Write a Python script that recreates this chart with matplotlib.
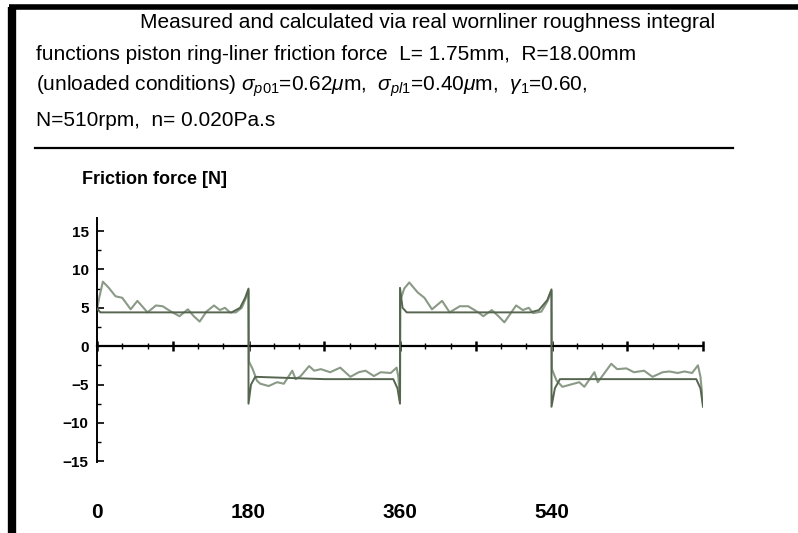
import matplotlib.pyplot as plt
from matplotlib.ticker import MultipleLocator
from matplotlib.transforms import blended_transform_factory
from matplotlib.lines import Line2D

plt.rcParams['font.family'] = ['Liberation Sans Narrow', 'Liberation Sans', 'DejaVu Sans']
plt.rcParams['mathtext.fontset'] = 'custom'
plt.rcParams['mathtext.rm'] = 'Liberation Sans'
plt.rcParams['mathtext.it'] = 'Liberation Sans:italic'

# calculated friction force (crank angle in deg, force in N)
calc_deg = [0, 4, 90, 160, 170, 176, 180, 180, 183, 188, 270, 340, 352, 357, 360,
            360, 363, 368, 450, 515, 525, 535, 540, 540, 544, 550, 700, 712, 717, 720]
calc_force = [4.9, 4.4, 4.4, 4.4, 5.0, 6.3, 7.5, -7.5, -5.0, -4.0, -4.3, -4.3, -4.3, -5.5, -7.5,
              7.6, 5.0, 4.4, 4.4, 4.4, 4.7, 6.0, 7.4, -7.9, -5.5, -4.3, -4.3, -4.3, -5.5, -7.9]

# measured friction force
meas_deg = [0, 3, 7, 14, 22, 30, 40, 48, 60, 70, 78, 88, 98, 108, 115, 122, 130, 139, 146,
            152, 158, 165, 172, 177, 180,
            180.5, 185, 190, 194, 204, 214, 222, 232, 236, 242, 252, 258, 266, 277, 289, 301,
            311, 319, 329, 337, 349, 356, 358, 360,
            360.5, 365, 371, 381, 389, 398, 410, 419, 431, 441, 453, 459, 469, 477, 484, 498,
            506, 513, 518, 528, 535, 540,
            540.5, 546, 553, 563, 573, 579, 591, 595, 601, 611, 618, 629, 638, 650, 660, 672,
            680, 690, 698, 707, 714, 717, 720]
meas_force = [4.8, 6.5, 8.4, 7.6, 6.5, 6.3, 4.8, 5.9, 4.4, 5.3, 5.2, 4.5, 3.9, 4.8, 3.9, 3.2,
              4.5, 5.3, 4.7, 5.0, 4.4, 4.4, 5.0, 6.3, 7.3,
              -2.0, -3.0, -4.5, -4.9, -5.2, -4.7, -4.9, -3.2, -4.3, -3.9, -2.6, -3.2, -3.0, -3.4,
              -2.8, -4.0, -3.4, -3.2, -3.9, -3.4, -3.5, -2.8, -4.0, -7.0,
              6.0, 7.5, 8.3, 7.0, 6.3, 4.8, 5.9, 4.4, 5.2, 5.2, 4.4, 3.9, 4.7, 3.9, 3.1, 5.3,
              4.7, 5.0, 4.3, 4.5, 5.8, 7.2,
              -3.0, -4.5, -5.3, -5.0, -4.7, -5.3, -3.4, -4.7, -3.8, -2.3, -3.0, -2.9, -3.4, -3.2,
              -4.0, -3.4, -3.3, -3.5, -3.3, -3.5, -2.5, -4.0, -7.5]

x_labels = [0, 180, 360, 540]
y_ticks = [-15, -10, -5, 0, 5, 10, 15]

title_lines = [
    "Measured and calculated via real wornliner roughness integral",
    "functions piston ring-liner friction force  L= 1.75mm,  R=18.00mm",
    r"(unloaded conditions) $\sigma_{p01}$=0.62$\mu$m,  $\sigma_{pl1}$=0.40$\mu$m,  $\gamma_1$=0.60,",
    "N=510rpm,  n= 0.020Pa.s",
]

fig = plt.figure(figsize=(7.98, 5.33), dpi=100)
ax = fig.add_axes([97 / 798, 1 - 462 / 533, 606 / 798, 244 / 533])

ax.plot(meas_deg, meas_force, color='#8a9a86', lw=1.5, zorder=2)
ax.plot(calc_deg, calc_force, color='#56654f', lw=1.4, zorder=3)

ax.set_xlim(0, 720)
ax.set_ylim(-15.1, 16.7)

for side in ['top', 'right']:
    ax.spines[side].set_visible(False)
ax.spines['bottom'].set_position(('data', 0))
ax.spines['bottom'].set_linewidth(1.6)
ax.spines['left'].set_linewidth(1.4)
ax.set_facecolor('none')

ax.xaxis.set_major_locator(MultipleLocator(90))
ax.xaxis.set_minor_locator(MultipleLocator(30))
ax.tick_params(axis='x', which='major', direction='inout', length=7, width=1.8, labelbottom=False)
ax.tick_params(axis='x', which='minor', direction='inout', length=4, width=1.0)

ax.set_yticks(y_ticks)
ax.yaxis.set_minor_locator(MultipleLocator(2.5))
ax.tick_params(axis='y', which='major', direction='in', length=5, width=1.2, pad=6,
               labelsize=11)
ax.tick_params(axis='y', which='minor', direction='in', length=3, width=1.0)
ax.set_yticklabels([str(v).replace('-', '\u2212') for v in y_ticks], fontweight='bold')

# crank angle labels sit at the bottom of the frame
trans = blended_transform_factory(ax.transData, fig.transFigure)
for v in x_labels:
    ax.text(v, 1 - 513 / 533, str(v), transform=trans, ha='center', va='center',
            fontsize=15, fontweight='bold', clip_on=False)

fig.text(82 / 798, 1 - 180 / 533, "Friction force [N]", fontsize=13, fontweight='bold',
         va='center', ha='left')

# heading block
title_x = [140, 36, 36, 36]
title_y = [22, 54, 86, 121]
for tx, ty, line in zip(title_x, title_y, title_lines):
    fig.text(tx / 798, 1 - ty / 533, line, fontsize=15, va='center', ha='left')

fig.add_artist(Line2D([35 / 798, 733 / 798], [1 - 148 / 533] * 2, color='black', lw=1.6))

# page frame
fig.add_artist(Line2D([12 / 798, 12 / 798], [0, 1 - 7 / 533], color='black', lw=6,
                      solid_capstyle='butt'))
fig.add_artist(Line2D([9 / 798, 1], [1 - 7 / 533] * 2, color='black', lw=4,
                      solid_capstyle='butt'))

fig.savefig('out.png', dpi=100)
